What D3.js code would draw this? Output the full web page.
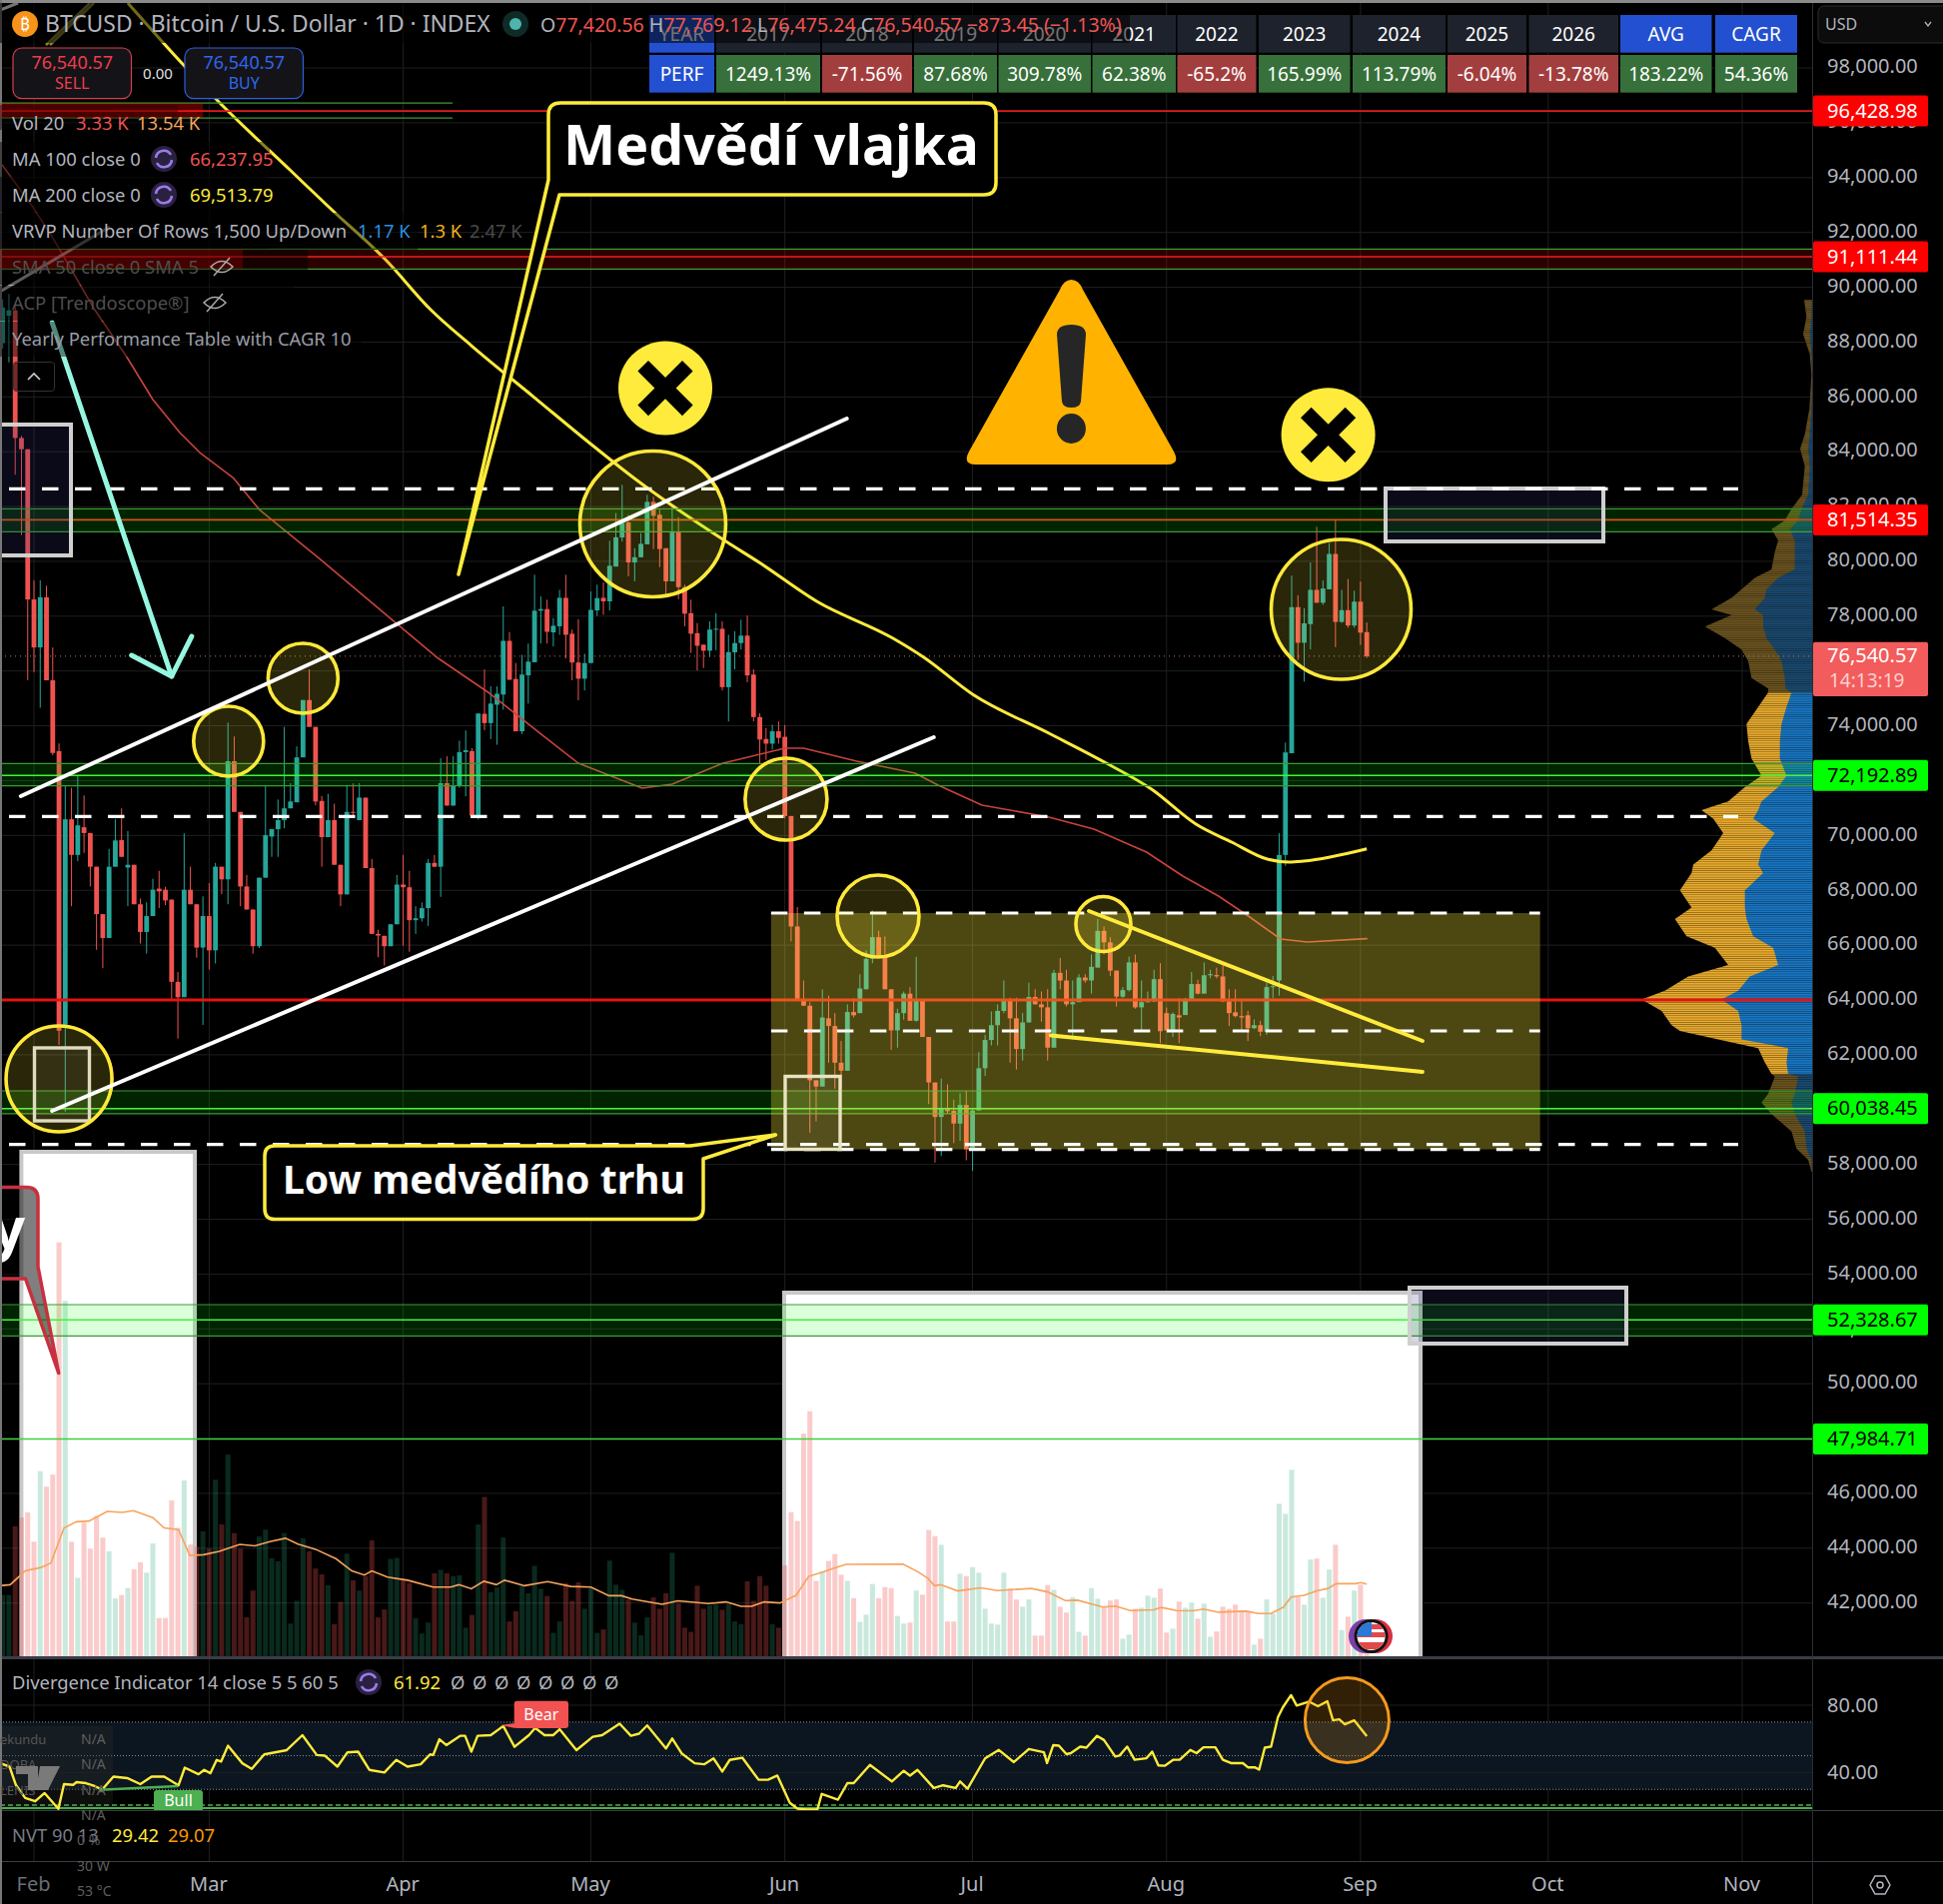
<!DOCTYPE html>
<html><head><meta charset="utf-8">
<script src="https://cdnjs.cloudflare.com/ajax/libs/d3/7.8.5/d3.min.js"></script>
<style>html,body{margin:0;padding:0;background:#000}svg{display:block}text{font-family:"Noto Sans",sans-serif}</style>
</head><body><div id="c"></div>
<script>
// ---------- data ----------
const firstDay = -5; // days since 1 Feb of the first candle
// [open, high, low, close]
const candleRows = [
[87900,89500,87700,89200],[88900,89700,87200,89100],[89100,89300,83100,84440],[84440,84520,80900,84030],[84030,84030,75600,78550],
[78550,79250,75900,76800],[76800,79250,74600,78630],[78630,79050,75600,75600],[75600,76800,72870,72950],[73020,73300,62300,62820],
[63035,71750,59860,70530],[70530,71680,67360,69230],[69230,72100,69000,70310],[70240,71400,69300,70030],[70030,70030,68080,68800],
[68800,68800,65770,67070],[67070,67070,65100,66200],[66200,69450,66200,68800],[68800,70530,68800,69760],[69770,70930,69160,69160],
[68770,70100,67360,68870],[68870,68870,67430,67430],[67430,67640,66000,66420],[66420,67500,65630,67000],[67000,68360,67000,67960],
[68000,68650,67290,67900],[67960,68070,67400,67570],[67600,67600,63900,64600],[64600,64960,62530,64040],[64040,70020,64040,67960],
[67960,68800,67430,67430],[67430,67430,65480,65850],[65850,67720,63030,67000],[67000,68200,65050,65750],[65750,68940,65270,68800],
[68800,68800,67800,68340],[68340,74060,67430,72650],[72650,73550,70800,70800],[70800,70800,67360,68080],[68080,68500,67240,67240],
[67240,67240,65630,65900],[65900,68400,65830,68400],[68400,71750,68400,69950],[69900,70170,69160,70170],[70170,71250,69160,70500],
[70500,73900,70200,70930],[70930,71850,70930,71180],[71150,73190,71150,72790],[72790,74880,72790,74880],[74880,76000,73900,73900],
[73900,73900,71040,71180],[71200,71380,68800,69880],[69880,71460,69880,70500],[70500,71100,68870,68870],[68870,68870,67360,67790],
[67790,71750,67790,70800],[70800,71840,70600,70780],[70500,71850,70500,71320],[71320,71320,68750,68750],[68750,69080,66350,66350],
[66350,66500,65500,66290],[66280,66280,65200,65900],[65900,66700,65900,66700],[66700,68500,66700,68150],[68150,69230,65920,68050],
[68050,68650,65700,66850],[66850,67360,66350,66920],[66920,67500,66800,67290],[67290,69080,66640,68940],[68940,69230,68800,68800],
[68800,72760,67700,71850],[71850,72830,71030,71030],[71030,72830,71030,71750],[71750,73400,71680,72980],[72980,73770,71370,73050],
[73020,73120,70600,70670],[70670,74390,70520,74390],[74380,76000,73780,74040],[74040,75380,73460,74750],[74710,75380,73250,75110],
[75080,78300,74530,77040],[77040,77360,75620,75620],[75650,76230,73740,73740],[73740,76530,73640,75810],[75780,76940,74750,76280],
[76260,79450,76260,78140],[78140,78660,76940,78200],[78200,78540,76940,77370],[77350,77870,76840,77590],[77570,78900,77260,78610],
[78610,79450,76400,77260],[77300,77450,75600,76250],[76250,77830,74870,75660],[75660,76570,75230,76230],[76230,78840,76230,78170],
[78150,79090,77950,78600],[78610,79170,77990,78480],[78480,80690,78150,79780],[79750,81700,79750,80820],[80810,82730,80660,81330],
[81360,81640,79390,79900],[79900,80420,79210,80090],[80090,80970,80090,80580],[80560,82370,80560,82110],[82110,82300,80390,81600],
[81640,81820,79730,80390],[80420,80420,78720,79210],[79210,81940,79210,81010],[81010,81550,78560,79000],[79000,79090,77570,78030],
[78050,78540,76600,77300],[77320,77690,75960,76860],[76900,76900,76050,76680],[76680,77750,76450,77450],[77450,78050,76700,77480],
[77480,77750,75230,75350],[75350,77260,74100,76630],[76620,77390,76000,76960],[76960,77810,76720,77230],[77230,77960,75530,75780],
[75810,76000,74100,74260],[74260,74400,72560,73440],[73460,73860,72700,73290],[73290,73980,73070,73740],[73740,74100,73290,73500],
[73540,73970,70570,70650],[70650,70650,66070,66620],[66620,67330,63980,63980],[63980,64650,63730,63730],[63730,63860,59100,61010],
[61010,61010,59510,60780],[60780,64330,60780,63300],[63270,64100,61650,62990],[62990,63460,60700,61650],[61650,62440,60700,61360],
[61360,63780,61360,63500],[63500,64000,63300,63380],[63460,64880,63460,64360],[64330,65750,64330,65440],[65440,67200,65280,66230],
[66230,66460,65520,65520],[65520,66260,64330,64330],[64330,64330,62120,62830],[62830,63620,62200,63460],[63460,64250,63220,64170],
[64170,64410,63180,63180],[63180,65520,63150,63940],[63940,63940,62590,62590],[62590,62590,60140,60930],[60930,60930,58010,59670],
[59670,61070,58250,59990],[59960,60860,59800,59880],[59900,60300,58720,59430],[59430,60540,58800,60110],[60110,60620,58090,58490],
[58490,59990,57700,59910],[59910,62040,59910,61450],[61450,62670,61170,62480],[62480,63520,62280,63020],[63020,63780,62280,63540],
[63540,64650,63460,63940],[63940,64020,61650,63270],[63270,64020,61400,62150],[62150,63460,61730,63120],[63120,64570,63120,64050],
[64050,64330,63780,63780],[63780,64250,63150,63670],[63670,64330,61730,62200],[62200,65040,62200,64930],[64930,65470,64330,64650],
[64650,65040,63700,63780],[63780,64650,62510,63860],[63860,64880,63860,64760],[64760,64880,64570,64650],[64650,65600,64170,65150],
[65120,66890,65120,66460],[66460,66620,65600,66040],[66040,66230,64810,65010],[65010,65010,63700,64060],[64060,64410,64015,64300],
[64300,65520,64250,65310],[65310,65600,63620,63670],[63670,64650,62830,63860],[63860,64250,63860,63890],[63890,65040,63860,64700],
[64700,65280,62360,62800],[63460,63660,62830,62830],[62830,63490,62590,63430],[63380,64015,62360,63300],[63390,64015,63390,63980],
[63980,64960,63930,64520],[64520,64680,64140,64170],[64170,65310,64170,64840],[64840,65040,64730,64880],[64850,65120,64730,64800],
[64800,65280,63860,63890],[63890,64330,62990,63460],[63490,64330,63300,63350],[63350,63940,62830,63300],[63380,63540,62440,62910],
[62910,63230,62880,63020],[63020,63180,62620,62780],[62780,64570,62670,64410],[64410,64810,64000,64440],[64650,70020,64100,69230],
[69230,73330,68830,72970],[72940,79420,72940,78270],[78270,78700,76340,76970],[76970,78230,75550,77680],[77650,79900,76730,78900],
[78900,81200,78430,78430],[78430,79250,78350,78950],[78920,80610,78920,80210],[80210,81470,76810,77730],[77730,78900,77700,78160],
[78160,79300,77520,77600],[77600,78870,77520,78470],[78470,79200,76890,77340],[77360,77710,76415,76480]];
const candleReadOffset = 60; // the candle prices above were read against a grid 60 USD low

const volumes = [178,178,378,403,418,333,538,493,528,1203,1033,333,228,388,313,408,345,305,168,178,198,253,273,243,328,111,111,453,373,511,325,318,363,313,513,383,586,358,313,113,191,348,368,285,276,358,95,161,343,305,255,238,206,93,158,298,221,191,233,337,113,136,283,286,223,213,110,66,98,241,251,241,233,235,83,120,383,463,186,200,345,101,131,205,183,263,196,175,68,101,213,161,215,138,198,68,78,278,208,193,165,98,61,113,171,138,183,301,153,83,71,205,138,148,150,135,153,101,93,218,161,233,205,93,83,
264,419,393,647,712,219,247,277,297,237,219,169,100,121,210,169,201,198,117,95,98,191,179,367,349,324,101,101,240,233,259,243,138,95,92,243,197,165,144,165,60,60,207,193,144,127,172,71,60,198,167,144,162,165,51,63,138,141,176,170,197,69,80,159,141,156,109,153,57,72,144,138,150,133,132,34,51,165,124,443,414,542,172,150,281,284,170,252,324,76,115,191,208,52];
const volumeMaDays = [-5.4,-3.8,-1.4,1.1,2.7,4.8,6.8,8.8,11.7,14.1,15.9,19,20.8,23.1,24.9,27.1,29.6,32.9,35.3,37.7,40.2,42.2,45,48.3,50.8,52.8,54,56.5,59.7,63.8,66.6,67.9,69.9,71.9,73.9,75.2,78.4,82.1,85.8,89,91.9,93.9,95.6,100.4,102.9,107.8,110.6,113,114.7,116.7,119.2,121.8,123.8,125.8,128.5,129.8,138.9,141.3,142.9,143.9,144.9,147.6,151.3,154,159.4,162,164.8,166.8,170.8,172.8,175.2,178.9,180.2,182.6,185.2,186.9,189.3,193.7,195.7,197.7,199.7,200.9,203,205,206.8,208.1,211.2,212,213];
const volumeMa = [205,208,248,258,271,373,391,393,421,418,423,403,373,368,293,295,305,325,321,333,343,326,311,283,248,236,248,230,221,201,201,208,196,218,208,221,205,217,203,201,176,176,166,151,161,153,158,145,145,158,155,177,232,243,260,267,268,245,226,205,208,190,199,191,197,187,162,163,143,146,133,135,142,133,132,137,128,131,124,124,143,172,177,190,197,211,211,214,210];

const ma200Days = [15,23.6,29.7,40.9,47.6,56.2,63.4,70.1,80,88.7,96.2,110.6,115.9,125.1,137.3,142.2,150,162.2,170.8,178.6,185.7,191.4,197.1,200.6,202.9,213];
const ma200 = [100368,98181,96723,94282,92824,91002,89180,87832,85973,84334,82985,80726,79961,78540,77191,76499,75151,73729,72709,71689,70413,69758,69138,69029,69065,69514];
const ma100Days = [-5.1,-0.2,3.2,9.7,14.8,19,23.3,26.5,31.8,36,45.8,54.7,64.6,72.8,81.7,87,97.2,102,110.1,120,123,131.5,140.8,144.5,151.5,162.2,169.4,177.8,183.6,189.3,194.3,199.2,203.5,213];
const ma100 = [94464,92933,91731,89180,87467,85900,84698,83969,83058,81892,80070,78357,76462,75187,73584,72636,71725,71871,72636,73183,73183,72709,72272,71835,71106,70669,70231,69393,68519,67790,67025,66223,66114,66238];

const rsiDays = [-5.4,-3.9,-2.9,-1.4,.2,1.7,3.9,4.8,6.3,6.8,8.3,9.8,10.9,12.7,14.9,17,18.8,20.8,23.1,24.1,26.3,27.2,28.2,29.2,29.9,31,33.3,34.8,36.8,40.4,42.9,45.2,46.5,48.5,50.1,51.8,53.6,56,57.9,59.7,61.8,63.3,63.8,64.8,65.9,68.1,68.9,69.9,70.9,73,75,76.8,79.1,80.1,81.6,83,84,86.7,89.3,90.8,93.6,95.4,96.7,98,101,102,103.5,105.6,107.1,108.6,110,111.2,113.2,115.8,117.3,118.8,120.8,122,123.4,125.2,125.9,128.5,130,131,133.6,137.1,139,140,141.2,143.8,145.3,147.3,148,149.2,152,154.2,156.6,159,161.4,161.9,162.9,163.8,165,165.7,167.2,168.2,169.9,171,172.8,173.5,174.7,175.9,177.8,178.7,179.7,180.7,182.1,183.1,184.8,185.8,186.9,188.8,190,191.3,193.2,194,195.1,195.8,196.7,197.7,198.8,199.6,200.9,201.8,203.8,205.2,206.7,207.6,208.6,209.5,211,213];
const rsi = [45.5,43.5,32.7,24.9,22.9,27.8,18.4,33.1,32.7,34.3,33.7,31.8,29.8,37.6,36.7,33.1,37.6,37.6,32.4,42.9,39,41.6,39.6,47.5,46.5,55.9,45.5,42.2,50.8,53.3,62.2,50.4,50,43.5,52,52.4,41.6,40,47.5,43.5,44.9,50.8,50.4,59.8,56.3,61.8,61.8,52.4,61.8,62.2,67.6,55.3,62.2,66.5,62.2,62.2,65.7,53.3,61.2,62.2,69,61.8,63.1,68,54.3,60.2,51.4,45.5,44.9,48.4,40.6,47.5,48.8,35.7,35.7,38.2,22,18.6,18,18,27.3,23.9,33.7,33.7,44.5,34.7,41,38.2,41.6,30.8,32.4,30.8,34.7,30.4,48.4,53.4,46.2,54,52,45.6,56.3,56,50.9,51.5,55.4,54.8,61.8,59.3,49.5,50.1,55.4,47.6,48.5,52.4,44.2,44,47.6,47.6,53.4,51.5,55,55,47.6,45.6,45.6,43.1,43.1,41.7,54.8,55.4,72.9,78.8,86,79.8,82.1,79.4,82.3,71,71.6,68.6,71,61.6];

const profilePrices = [89540,88915,88290,87555,86825,85570,84630,84105,83475,82430,81910,81490,81175,80760,80340,79710,79400,78980,78665,78250,78040,77620,77200,76785,76365,75740,75360,75215,74690,74065,73435,72810,72180,71760,71240,70925,70610,70090,69460,68940,68625,68000,67370,66950,66320,65905,65275,64860,64335,64020,63600,63080,62870,62560,62245,61720,61300,61200,60570,60255,59835,59210,58580,58165,57745];
const profileTotal = [24,17,27,7,2,8,22,36,22,30,62,82,122,102,112,122,172,212,242,302,242,322,262,212,192,182,132,132,162,197,192,182,152,202,252,332,297,267,302,357,362,397,362,412,377,292,252,372,442,512,452,422,397,282,162,142,122,112,132,152,122,62,47,12,2];
const profileUp = [2,2,7,2,0,2,7,12,7,12,32,42,67,52,52,52,102,137,142,172,147,147,137,112,92,82,80,62,77,92,97,97,77,102,152,162,177,112,152,162,147,202,202,197,177,117,102,187,222,272,222,212,212,212,72,77,72,42,52,62,52,22,17,2,0];
const valueAreaHigh = 75300, valueAreaLow = 61250;

const monthLabels = ["Feb","Mar","Apr","May","Jun","Jul","Aug","Sep","Oct","Nov"];
const monthDays = [0,28,59,89,120,150,181,212,242,273];
const priceTicks = [98000,96000,94000,92000,90000,88000,86000,84000,82000,80000,78000,76000,74000,72000,70000,68000,66000,64000,62000,60000,58000,56000,54000,52000,50000,48000,46000,44000,42000];
const rsiTicks = [80,40];
const rsiBands = [70,50,30];

const tableYears = ["YEAR","2017","2018","2019","2020","2021","2022","2023","2024","2025","2026","AVG","CAGR"];
const tablePerf = ["PERF","1249.13%","-71.56%","87.68%","309.78%","62.38%","-65.2%","165.99%","113.79%","-6.04%","-13.78%","183.22%","54.36%"];

const zoneLevels = [ // [high, low, line] in USD
 [96723,96177,96428.98],[91392,90663,91111.44],[81918,81079,81514.35],[72622,71813,72192.89],[60684,59853,60038.45],[52886,51745,52328.67]];
const zoneTints = ["#ff0000","#ff0000","#00ff00","#00ff00","#00ff00","#00ff00"];
const zoneLineColors = ["#e01c1c","#f02020","#d8501a","#46f03c","#46f03c","#46f03c"];
const singleLevel = 47984.71;
const sellLevels = [96428.98,91111.44,81514.35];
const buyLevels = [72192.89,60038.45,52328.67,47984.71];
const lastPrice = 76540.57;
const redLevel = 64000;
const longDashes = [82647,70690,58730];
const boxDashes = [67170,62870,58550];
const boxRange = [117.8,240.7];
const channelTop = [[-2.1,71434],[129.9,85208]];
const channelBottom = [[2.9,59955],[143.8,73584]];
const wedgeTop = [[168.6,67243],[221.9,62506]];
const wedgeBottom = [[162.5,62710],[221.9,61376]];
const arrowShaft = [[2.9,88706],[22,75807]];
const arrowHead = [[15.6,76572],[22,75807],[25.2,77264]];
const rings = [[4,61121,53,53],[31.1,73438,35,35],[43,75734,35,35],[98.9,81364,73,73],[120.2,71324,41,41],[134.9,67061,41,41],[170.9,66769,27.5,27.5],[208.9,78248,70,70]];

// ---------- scales ----------
const W=1945,H=1906, axisX=1814, paneBottom=1658;
const x=d3.scaleLinear().domain([0,273]).range([34,1744]);
const y=d3.scaleLinear().domain([64000,98000]).range([1001,68]);
const yR=d3.scaleLinear().domain([40,80]).range([1774.4,1707]);
const yV=d3.scaleLinear().domain([0,1000]).range([paneBottom,paneBottom-344.4]);
const wP=d3.scaleLinear().domain([0,300]).range([0,100]);
const svg=d3.select("#c").append("svg").attr("width",W).attr("height",H).attr("viewBox",`0 0 ${W} ${H}`).style("background","#000");
const defs=svg.append("defs");
defs.append("clipPath").attr("id","mainClip").append("rect").attr("x",0).attr("y",0).attr("width",axisX).attr("height",paneBottom);
defs.append("clipPath").attr("id","rsiClip").append("rect").attr("x",0).attr("y",1660).attr("width",axisX).attr("height",152);
defs.append("clipPath").attr("id","flagClip").append("circle").attr("cx",1372.6).attr("cy",1638).attr("r",14);
const hatch=defs.append("pattern").attr("id","rows").attr("patternUnits","userSpaceOnUse").attr("width",8).attr("height",2.2);
hatch.append("rect").attr("width",8).attr("height",.7).attr("fill","rgba(0,0,0,.42)");
const grid=svg.append("g");
const main=svg.append("g").attr("clip-path","url(#mainClip)");
const rsiG=svg.append("g");
const ui=svg.append("g");

// grid
grid.selectAll("line.v").data(monthDays).join("line").attr("x1",d=>x(d)).attr("x2",d=>x(d)).attr("y1",0).attr("y2",1863).attr("stroke","#1f1f1f");
grid.selectAll("line.h").data(priceTicks).join("line").attr("x1",0).attr("x2",axisX).attr("y1",d=>y(d)).attr("y2",d=>y(d)).attr("stroke","#1f1f1f");

const lineXY=d3.line().x(p=>x(p[0])).y(p=>y(p[1]));
const seg=(g,pts,stroke,w,extra={})=>{const s=g.append("path").attr("d",lineXY(pts)).attr("fill","none").attr("stroke",stroke).attr("stroke-width",w).attr("stroke-linecap","round").attr("stroke-linejoin","round");for(const k in extra)s.attr(k,extra[k]);return s;};

// white rectangles behind volume
const whiteBoxes=[[21.4,195,1153],[785,1422,1294]];
main.selectAll("rect.wb").data(whiteBoxes).join("rect").attr("x",d=>d[0]).attr("y",d=>d[2]).attr("width",d=>d[1]-d[0]).attr("height",d=>paneBottom-d[2]+4).attr("fill","#fff").attr("stroke","#c8c8c8").attr("stroke-width",4);

// volume bars
const candles=candleRows.map((r,i)=>({d:firstDay+i,o:r[0]+candleReadOffset,h:r[1]+candleReadOffset,l:r[2]+candleReadOffset,c:r[3]+candleReadOffset,v:volumes[i]}));
main.append("g").selectAll("rect").data(candles).join("rect")
 .attr("x",d=>x(d.d)-2.5).attr("width",5).attr("y",d=>yV(d.v)).attr("height",d=>yV(0)-yV(d.v))
 .attr("fill",d=>d.c>=d.o?"rgba(38,166,120,0.25)":"rgba(239,83,80,0.3)");
main.append("path").datum(volumeMaDays.map((d,i)=>[d,volumeMa[i]])).attr("fill","none").attr("stroke","#f7a35c").attr("stroke-width",1.6)
 .attr("d",d3.line().x(p=>x(p[0])).y(p=>yV(p[1])));

// volume profile
const prof=profilePrices.map((p,i)=>({p,t:profileTotal[i],u:profileUp[i]}));
function profileArea(rows,key,fill){
 main.append("path").datum(rows).attr("fill",fill).attr("d",d3.area().y(r=>y(r.p)).x0(axisX).x1(r=>axisX-wP(r[key])));
}
const inVA=r=>r.p<=valueAreaHigh&&r.p>=valueAreaLow;
const idxs=prof.map((r,i)=>i).filter(i=>inVA(prof[i]));
const above=prof.slice(0,idxs[0]+1), va=prof.slice(idxs[0],idxs[idxs.length-1]+1), below=prof.slice(idxs[idxs.length-1]);
[[above,"#6b5420","#1b4a70"],[va,"#e8ab2e","#1976c2"],[below,"#6b5420","#1b4a70"]].forEach(s=>{profileArea(s[0],"t",s[1]);profileArea(s[0],"u",s[2]);});
profileArea(prof,"t","url(#rows)");

// candles
const cg=main.append("g");
const ucol="#26a69a",dcol="#ef5350";
cg.selectAll("line").data(candles).join("line").attr("x1",d=>x(d.d)).attr("x2",d=>x(d.d)).attr("y1",d=>y(d.h)).attr("y2",d=>y(d.l)).attr("stroke",d=>d.c>=d.o?ucol:dcol).attr("stroke-width",1);
cg.selectAll("rect").data(candles).join("rect").attr("x",d=>x(d.d)-2.4).attr("width",4.8)
 .attr("y",d=>y(Math.max(d.o,d.c))).attr("height",d=>Math.max(1,Math.abs(y(d.o)-y(d.c)))).attr("fill",d=>d.c>=d.o?ucol:dcol);

// last price dotted
main.append("line").attr("x1",0).attr("x2",axisX).attr("y1",y(lastPrice)).attr("y2",y(lastPrice)).attr("stroke","#c9724f").attr("stroke-dasharray","1 4");
// moving averages
seg(main,ma100Days.map((d,i)=>[d,ma100[i]]),"#c8443c",1.6);
main.append("path").attr("d",d3.line().curve(d3.curveMonotoneX).x(p=>x(p[0])).y(p=>y(p[1]))(ma200Days.map((d,i)=>[d,ma200[i]]))).attr("fill","none").attr("stroke","#ffeb3b").attr("stroke-width",3);
// red level
main.append("line").attr("x1",0).attr("x2",axisX).attr("y1",y(redLevel)).attr("y2",y(redLevel)).attr("stroke","#e41212").attr("stroke-width",3);

// zones
zoneLevels.forEach((z,i)=>{
 const narrow=i===0;
 const xEnd=narrow?453:axisX;
 const g=main.append("g");
 g.append("rect").attr("x",0).attr("width",narrow?203:axisX).attr("y",y(z[0])).attr("height",y(z[1])-y(z[0])).attr("fill",zoneTints[i]).attr("opacity",i<2?.17:.14);
 [z[0],z[1]].forEach(p=>g.append("line").attr("x1",0).attr("x2",xEnd).attr("y1",y(p)).attr("y2",y(p)).attr("stroke","#3c9a34").attr("stroke-width",1.2));
 g.append("line").attr("x1",0).attr("x2",axisX).attr("y1",y(z[2])).attr("y2",y(z[2])).attr("stroke",zoneLineColors[i]).attr("stroke-width",1.6);
});
main.append("line").attr("x1",0).attr("x2",axisX).attr("y1",y(singleLevel)).attr("y2",y(singleLevel)).attr("stroke","#3fd13f").attr("stroke-width",1.6);

// grey navy boxes
[[0,71,425,556],[1387,1605,489,542],[1411,1628,1289,1345]].forEach(b=>{
 main.append("rect").attr("x",b[0]).attr("y",b[2]).attr("width",b[1]-b[0]).attr("height",b[3]-b[2]).attr("fill","rgba(50,50,120,.2)").attr("stroke","#cfcfcf").attr("stroke-width",4);
});
// consolidation box
main.append("rect").attr("x",x(boxRange[0])).attr("width",x(boxRange[1])-x(boxRange[0])).attr("y",y(boxDashes[0])).attr("height",y(boxDashes[2])-y(boxDashes[0])).attr("fill","#ffeb3b").attr("opacity",.3);
// dashed levels
const dashAttr=(s)=>s.attr("stroke","#fff").attr("stroke-width",3.2).attr("stroke-dasharray","16.5 16.5");
longDashes.forEach(p=>dashAttr(main.append("line").attr("x1",9).attr("x2",1740).attr("y1",y(p)).attr("y2",y(p))));
boxDashes.forEach(p=>dashAttr(main.append("line").attr("x1",x(boxRange[0])).attr("x2",x(boxRange[1])).attr("y1",y(p)).attr("y2",y(p))));
// small boxes
[[34.5,89.5,1049,1122,"#d8d8d8"],[786,841,1077.5,1150.5,"#e8e4c0"]].forEach(b=>{
 main.append("rect").attr("x",b[0]).attr("y",b[2]).attr("width",b[1]-b[0]).attr("height",b[3]-b[2]).attr("fill","rgba(220,220,220,.06)").attr("stroke",b[4]).attr("stroke-width",3.4);
});
// rings
main.selectAll("ellipse.r").data(rings).join("ellipse").attr("cx",d=>x(d[0])).attr("cy",d=>y(d[1])).attr("rx",d=>d[2]).attr("ry",d=>d[3]).attr("fill","rgba(255,235,59,.16)").attr("stroke","#ffe93a").attr("stroke-width",3.6);
// trend lines
seg(main,channelTop,"#fff",4);seg(main,channelBottom,"#fff",4);
seg(main,wedgeTop,"#ffeb3b",4);seg(main,wedgeBottom,"#ffeb3b",4);
seg(main,arrowShaft,"#96f7e0",5);seg(main,arrowHead,"#96f7e0",5);
// grey corner lines
main.append("line").attr("x1",0).attr("y1",292).attr("x2",110).attr("y2",227).attr("stroke","#aaa").attr("stroke-width",3);
main.append("line").attr("x1",46).attr("y1",45).attr("x2",90).attr("y2",3).attr("stroke","#8c8530").attr("stroke-width",2.5);
main.append("line").attr("x1",50).attr("y1",45).attr("x2",94).attr("y2",3).attr("stroke","#8c8530").attr("stroke-width",2.5);
main.append("line").attr("x1",0).attr("y1",10).attr("x2",18).attr("y2",3).attr("stroke","#fff").attr("stroke-width",3);

// callouts
const bubbleGlow=(d,fill)=>{main.append("path").attr("d",d).attr("fill",fill).attr("stroke","#ffeb3b").attr("stroke-width",3.5).attr("stroke-linejoin","round");
 main.append("path").attr("d",d).attr("fill","none").attr("stroke","#000").attr("stroke-opacity",.0);};
bubbleGlow("M561,103 H985 Q997,103 997,115 V183 Q997,195 985,195 H560 L459,575 L549,180 V115 Q549,103 561,103 Z","#000");
main.append("text").attr("x",772).attr("y",165).attr("text-anchor","middle").attr("font-size",56).attr("font-weight",700).attr("fill","#fff").attr("textLength",416).attr("lengthAdjust","spacingAndGlyphs").text("Medvědí vlajka");
bubbleGlow("M275,1147 H691 L776.5,1136 L704,1160 V1210 Q704,1220.6 693,1220.6 H275 Q265,1220.6 265,1210 V1157 Q265,1147 275,1147 Z","#000");
main.append("text").attr("x",484.5).attr("y",1195).attr("text-anchor","middle").attr("font-size",39).attr("font-weight",700).attr("fill","#fff").attr("textLength",403).attr("lengthAdjust","spacingAndGlyphs").text("Low medvědího trhu");
main.append("path").attr("d","M-5,1188.5 H26 Q38,1188.5 38,1200 V1268 L58.7,1374.5 L25.5,1280 H-5 Z").attr("fill","rgba(0,0,0,.5)").attr("stroke","#c8303f").attr("stroke-width",3.5).attr("stroke-linejoin","round");
main.append("text").attr("x",-8).attr("y",1250).attr("font-size",58).attr("font-weight",700).attr("fill","#fff").text("y");

// warning sign
main.append("path").attr("d","M1072.4,280 Q1080,280 1084,290 L1175,452 Q1182,465 1168,465 H977 Q963,465 970,452 L1061,290 Q1065,280 1072.4,280 Z").attr("fill","#ffb300");
main.append("path").attr("d","M1058,335 Q1058,325 1072.4,325 Q1087,325 1087,335 L1082,402 Q1081,408 1072.4,408 Q1064,408 1063,402 Z").attr("fill","#262626");
main.append("ellipse").attr("cx",1072.4).attr("cy",429).attr("rx",14.5).attr("ry",15).attr("fill","#262626");
// X badges
[[666,388.6],[1329.6,435.3]].forEach(c=>{
 main.append("circle").attr("cx",c[0]).attr("cy",c[1]).attr("r",47).attr("fill","#ffeb3b");
 [[-17,-17,17,17],[-17,17,17,-17]].forEach(l=>main.append("line").attr("x1",c[0]+l[0]).attr("y1",c[1]+l[1]).attr("x2",c[0]+l[2]).attr("y2",c[1]+l[3]).attr("stroke","#000").attr("stroke-width",15).attr("stroke-linecap","square"));
});
// flag
[[1367,"#7b3fa8"],[1377,"#d83040"],[1372.6,"#111"]].forEach(c=>main.append("circle").attr("cx",c[0]).attr("cy",1638).attr("r",17).attr("fill",c[1]));
const fl=main.append("g").attr("clip-path","url(#flagClip)");
fl.append("rect").attr("x",1358).attr("y",1622).attr("width",30).attr("height",32).attr("fill","#fff");
[[1626,5],[1634,5],[1644,7]].forEach(s=>fl.append("rect").attr("x",1358).attr("y",s[0]).attr("width",30).attr("height",s[1]).attr("fill","#e0484a"));
fl.append("rect").attr("x",1358).attr("y",1622).attr("width",15).attr("height",16).attr("fill","#2a78d8");

// ---------- RSI pane ----------
rsiG.append("rect").attr("x",0).attr("width",axisX).attr("y",yR(70)).attr("height",yR(30)-yR(70)).attr("fill","#0c1620");
rsiTicks.forEach(v=>rsiG.append("line").attr("x1",0).attr("x2",axisX).attr("y1",yR(v)).attr("y2",yR(v)).attr("stroke","#1f1f1f"));
rsiBands.forEach(v=>rsiG.append("line").attr("x1",0).attr("x2",axisX).attr("y1",yR(v)).attr("y2",yR(v)).attr("stroke","#8a8f98").attr("stroke-dasharray","1 2"));
rsiG.append("rect").attr("x",0).attr("y",1728).attr("width",113).attr("height",84).attr("fill","rgba(40,40,40,.35)");
const rc=rsiG.append("g").attr("clip-path","url(#rsiClip)");
rc.append("line").attr("x1",0).attr("x2",axisX).attr("y1",1807).attr("y2",1807).attr("stroke","#4caf50").attr("stroke-width",1.5).attr("stroke-dasharray","5 3");
rc.append("line").attr("x1",0).attr("x2",axisX).attr("y1",1810).attr("y2",1810).attr("stroke","#4caf50").attr("stroke-width",1.8);
rc.append("path").attr("d",d3.line().x(p=>x(p[0])).y(p=>yR(p[1]))(rsiDays.map((d,i)=>[d,rsi[i]]))).attr("fill","none").attr("stroke","#ffeb3b").attr("stroke-width",2.4).attr("stroke-linejoin","round");
rc.append("line").attr("x1",99).attr("y1",1791.7).attr("x2",178).attr("y2",1788).attr("stroke","#4caf50").attr("stroke-width",2.6);
rc.append("rect").attr("x",154).attr("y",1792).attr("width",49).attr("height",30).attr("rx",3).attr("fill","#4caf50");
rc.append("text").attr("x",178.5).attr("y",1808).attr("text-anchor","middle").attr("font-size",16).attr("fill","#fff").text("Bull");
rc.append("path").attr("d","M501,1727 L516,1725 V1730 Z").attr("fill","#f25252");
rc.append("rect").attr("x",514.7).attr("y",1702.7).attr("width",54.3).attr("height",27.3).attr("rx",3).attr("fill","#f25252");
rc.append("text").attr("x",541.8).attr("y",1722).attr("text-anchor","middle").attr("font-size",16).attr("fill","#fff").text("Bear");
rsiG.append("ellipse").attr("cx",1348.4).attr("cy",1722).attr("rx",42).attr("ry",42.5).attr("fill","rgba(245,154,30,.2)").attr("stroke","#f59a1e").attr("stroke-width",3);

// ---------- frames ----------
ui.append("rect").attr("x",0).attr("y",1658).attr("width",W).attr("height",3).attr("fill","#3a3d45");
ui.append("line").attr("x1",0).attr("x2",W).attr("y1",1812.5).attr("y2",1812.5).attr("stroke","#3a3d45");
ui.append("line").attr("x1",0).attr("x2",W).attr("y1",1863.5).attr("y2",1863.5).attr("stroke","#3a3d45");
ui.append("line").attr("x1",axisX+.5).attr("x2",axisX+.5).attr("y1",0).attr("y2",H).attr("stroke","#2a2d35");
ui.append("rect").attr("x",0).attr("y",0).attr("width",W).attr("height",3).attr("fill","#8a8a8a");
ui.append("rect").attr("x",0).attr("y",0).attr("width",2).attr("height",H).attr("fill","#777");

// ---------- axes ----------
const axisText=(sel,size)=>sel.selectAll("text").attr("font-size",size).attr("fill","#b2b5be").attr("font-family",'"Noto Sans",sans-serif');
const ay=ui.append("g").attr("transform",`translate(${axisX},0)`).call(d3.axisRight(y).tickValues(priceTicks).tickSize(0).tickPadding(15).tickFormat(d3.format(",.2f")));
ay.select(".domain").remove();axisText(ay,20);ay.selectAll("text").attr("dy","0.24em");
const ar=ui.append("g").attr("transform",`translate(${axisX},0)`).call(d3.axisRight(yR).tickValues(rsiTicks).tickSize(0).tickPadding(15).tickFormat(d3.format(".2f")));
ar.select(".domain").remove();axisText(ar,20);ar.selectAll("text").attr("dy","0.3em");
const ax=ui.append("g").attr("transform","translate(-1,1879)").call(d3.axisBottom(x).tickValues(monthDays).tickSize(0).tickPadding(0).tickFormat((d,i)=>monthLabels[i]));
ax.select(".domain").remove();axisText(ax,20);ax.selectAll("text").attr("dy","0.7em");
ax.select("text").attr("fill","#6a6d75");

// price tags
const tag=(p,bg,fg,h=31)=>{
 ui.append("rect").attr("x",axisX+1).attr("y",y(p)-h/2).attr("width",115).attr("height",h).attr("rx",2).attr("fill",bg);
 ui.append("text").attr("x",axisX+15).attr("y",y(p)+6.5).attr("font-size",20).attr("fill",fg).text(d3.format(",.2f")(p));
};
sellLevels.forEach(p=>tag(p,"#ff0000","#fff"));
buyLevels.forEach(p=>tag(p,"#00ff00","#000"));
ui.append("rect").attr("x",axisX+1).attr("y",642.7).attr("width",115).attr("height",54.3).attr("rx",2).attr("fill","#f25c5c");
ui.append("text").attr("x",axisX+15).attr("y",663).attr("font-size",20).attr("fill","#fff").text(d3.format(",.2f")(lastPrice));
ui.append("text").attr("x",axisX+17).attr("y",688).attr("font-size",19).attr("fill","#fbd0d0").text("14:13:19");

// USD selector
ui.append("rect").attr("x",1820).attr("y",6).attr("width",130).attr("height",37).attr("rx",6).attr("fill","#0c0c0c").attr("stroke","#2c2c2c");
ui.append("text").attr("x",1827).attr("y",30).attr("font-size",16).attr("fill","#b2b5be").text("USD");
ui.append("path").attr("d","M1927,22 l3,4 l3,-4").attr("fill","none").attr("stroke","#b2b5be").attr("stroke-width",1.3);
// settings icon
ui.append("path").attr("d","M1872,1887 l5,-9 h10 l5,9 l-5,9 h-10 Z").attr("fill","none").attr("stroke","#b2b5be").attr("stroke-width",1.5);
ui.append("circle").attr("cx",1882).attr("cy",1887).attr("r",3).attr("fill","none").attr("stroke","#b2b5be").attr("stroke-width",1.5);

// ---------- table ----------
const colEdges=[[650,715],[717,821],[823,913],[915,998],[999.5,1092],[1093.5,1177],[1178.5,1257.5],[1260,1351.5],[1354,1447],[1449,1528],[1530.5,1620],[1622,1713.5],[1717,1799]];
const isBlueCol=i=>i===0||i>=11;
const tbl=ui.append("g");
tbl.selectAll("rect.h").data(tableYears).join("rect").attr("x",(d,i)=>colEdges[i][0]).attr("width",(d,i)=>colEdges[i][1]-colEdges[i][0]).attr("y",15).attr("height",37.7).attr("fill",(d,i)=>isBlueCol(i)?"#2350d0":"#1e222d");
tbl.selectAll("rect.p").data(tablePerf).join("rect").attr("x",(d,i)=>colEdges[i][0]).attr("width",(d,i)=>colEdges[i][1]-colEdges[i][0]).attr("y",55).attr("height",37.7)
 .attr("fill",(d,i)=>i===0?"#2350d0":(d.startsWith("-")?"#a33e3e":"#37703a"));
tbl.selectAll("text.h").data(tableYears).join("text").attr("x",(d,i)=>(colEdges[i][0]+colEdges[i][1])/2).attr("y",41).attr("text-anchor","middle").attr("font-size",19).attr("fill","#fff").text(d=>d);
tbl.selectAll("text.p").data(tablePerf).join("text").attr("x",(d,i)=>(colEdges[i][0]+colEdges[i][1])/2).attr("y",81).attr("text-anchor","middle").attr("font-size",19).attr("fill","#fff").text(d=>d);

// ---------- legends ----------
const lg=svg.append("g");
lg.append("rect").attr("x",0).attr("y",3).attr("width",1131).attr("height",40).attr("fill","rgba(0,0,0,.55)");
[[118,105,130],[210,213,249],[205,177,213],[358,213,250],[248,250,285],[235,286,321],[302,322,357]].forEach(r=>{
 lg.append("rect").attr("x",0).attr("y",r[1]).attr("width",r[0]+60).attr("height",r[2]-r[1]).attr("fill","rgba(0,0,0,.45)");
});
lg.append("rect").attr("x",0).attr("y",142).attr("width",270).attr("height",70).attr("fill","rgba(0,0,0,.45)");
// strong red tints behind the legend rows
lg.append("rect").attr("x",0).attr("width",203).attr("y",y(96723)).attr("height",y(96177)-y(96723)).attr("fill","#ff0000").attr("opacity",.22);
lg.append("rect").attr("x",0).attr("width",243).attr("y",y(91392)).attr("height",y(90663)-y(91392)).attr("fill","#ff0000").attr("opacity",.2);
const T=(xp,yp,s,col,size=18.4)=>lg.append("text").attr("x",xp).attr("y",yp).attr("font-size",size).attr("fill",col).text(s);
lg.append("circle").attr("cx",25).attr("cy",24).attr("r",13).attr("fill","#f7931a");
T(20,30,"₿","#fff",17);
T(45,32,"BTCUSD · Bitcoin / U.S. Dollar · 1D · INDEX","#b2b5be",22.9);
lg.append("circle").attr("cx",516).attr("cy",24).attr("r",13).attr("fill","#0f2b28");
lg.append("circle").attr("cx",516).attr("cy",24).attr("r",6).attr("fill","#4db6ac");
const hdr=lg.append("text").attr("x",541).attr("y",32).attr("font-size",19.5);
[["O","#b2b5be"],["77,420.56 ","#ef5350"],["H","#b2b5be"],["77,769.12 ","#ef5350"],["L","#b2b5be"],["76,475.24 ","#ef5350"],["C","#b2b5be"],["76,540.57 ","#ef5350"],["−873.45 (−1.13%)","#ef5350"]].forEach(s=>hdr.append("tspan").attr("fill",s[1]).attr("xml:space","preserve").text(s[0]));
// order boxes
[[13,118.5,"#d43f4e","#ef3c4d","SELL"],[185,118.5,"#2f5fe0","#2f66ee","BUY"]].forEach(b=>{
 lg.append("rect").attr("x",b[0]).attr("y",48).attr("width",b[1]).attr("height",50.7).attr("rx",9).attr("fill","#141418").attr("stroke",b[2]).attr("stroke-width",1.2);
 lg.append("text").attr("x",b[0]+b[1]/2).attr("y",69).attr("text-anchor","middle").attr("font-size",18).attr("fill",b[3]).text("76,540.57");
 lg.append("text").attr("x",b[0]+b[1]/2).attr("y",89).attr("text-anchor","middle").attr("font-size",16).attr("fill",b[3]).text(b[4]);
});
T(158,79,"0.00","#e0e0e0",15).attr("text-anchor","middle");
const ic=(cx,cy)=>{lg.append("circle").attr("cx",cx).attr("cy",cy).attr("r",13).attr("fill","#2a2140");
 lg.append("path").attr("d",`M${cx-8},${cy-1} A8,8 0 0 1 ${cx+7},${cy-4} M${cx+8},${cy+1} A8,8 0 0 1 ${cx-7},${cy+4}`).attr("fill","none").attr("stroke","#9a7bea").attr("stroke-width",2.6);};
const eye=(cx,cy)=>{lg.append("path").attr("d",`M${cx-11},${cy} Q${cx},${cy-11} ${cx+11},${cy} Q${cx},${cy+11} ${cx-11},${cy} Z M${cx-8},${cy+9} L${cx+8},${cy-9}`).attr("fill","none").attr("stroke","#aaa").attr("stroke-width",1.5);};
T(12,130,"Vol 20","#b2b5be");T(76,130,"3.33 K","#ef5350");T(137,130,"13.54 K","#f7a35c");
T(12,166,"MA 100 close 0","#b2b5be");ic(164,159);T(190,166,"66,237.95","#ef5350");
T(12,202,"MA 200 close 0","#b2b5be");ic(164,195);T(190,202,"69,513.79","#ffeb3b");
T(12,238,"VRVP Number Of Rows 1,500 Up/Down","#b2b5be");T(358,238,"1.17 K","#2a8fe0");T(420,238,"1.3 K","#f2b01e");T(470,238,"2.47 K","#4a4a4a");
T(12,274,"SMA 50 close 0 SMA 5","#4e4e4e");eye(222,267);
T(12,310,"ACP [Trendoscope®]","#4e4e4e");eye(215,303);
T(12,346,"Yearly Performance Table with CAGR 10","#999ca5");
lg.append("rect").attr("x",13.5).attr("y",362.5).attr("width",41).attr("height",29).attr("rx",3).attr("fill","rgba(0,0,0,.5)").attr("stroke","#333");
lg.append("path").attr("d","M28,380 l6,-6 l6,6").attr("fill","none").attr("stroke","#ccc").attr("stroke-width",1.6);

T(12,1691,"Divergence Indicator 14 close 5 5 60 5","#b2b5be");ic(369,1684);T(394,1691,"61.92","#ffeb3b");
d3.range(8).forEach(i=>T(451+i*22,1691,"Ø","#b2b5be"));
T(12,1844,"NVT 90 13","#777b84");T(112,1844,"29.42","#ffeb3b");T(168,1844,"29.07","#ff9800");
[["ekundu",0,1746],["DOBA",0,1771],["LENIS",0,1797]].forEach(s=>T(s[1],s[2],s[0],"#555",13));
[["N/A",1746],["N/A",1771],["N/A",1797],["N/A",1822],["0 %",1847],["30 W",1873],["53 °C",1898]].forEach(s=>T(s[0]==="N/A"?81:77,s[1],s[0],"#5e5e5e",14));
lg.append("path").attr("d","M16,1768 H38 V1792 H28 V1776 H16 Z M40,1768 H60 L48,1792 H36 Z").attr("fill","#7a7a7a");
</script></body></html>
